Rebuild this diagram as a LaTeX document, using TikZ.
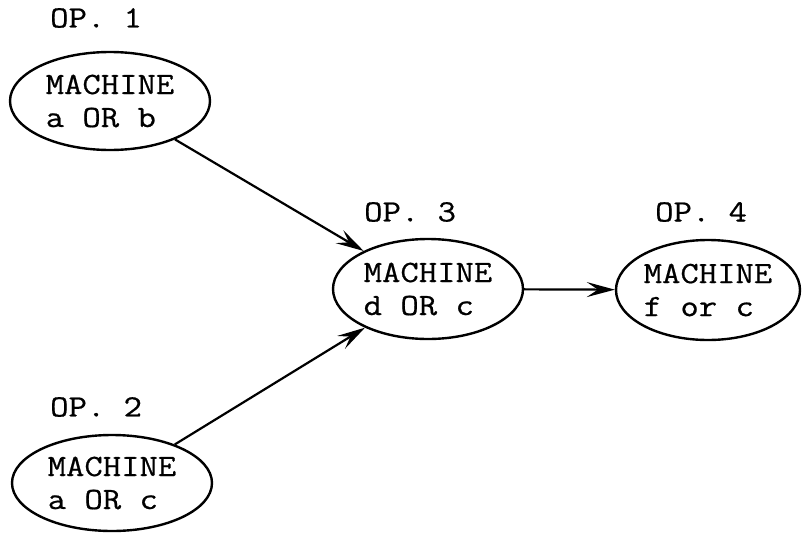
\documentclass[tikz,border=0pt]{standalone}
\usepackage{fontspec}
\setmonofont{Latin Modern Mono}[FakeStretch=1.15,FakeBold=0.6]
\usetikzlibrary{shapes.geometric,arrows.meta}
\begin{document}
\begin{tikzpicture}[x=1pt,y=-1pt,
  every node/.style={font=\ttfamily\fontsize{31}{33}\selectfont},
  machine/.style={draw, ellipse, line width=2.4pt, inner sep=0pt,
    align=left, minimum width=#1},
  machine/.default=200pt,
  oplabel/.style={anchor=west, inner sep=0pt},
  flow/.style={line width=2.2pt, -{Stealth[length=28pt,width=15pt,inset=11pt]}}]
  \useasboundingbox (0,0) rectangle (809,533);

  % operation nodes
  \node[machine=200pt, minimum height=98pt]  (m1) at (110,101) {MACHINE\\a OR b};
  \node[machine=200pt, minimum height=96pt]  (m2) at (112,483) {MACHINE\\a OR c};
  \node[machine=190pt, minimum height=100pt] (m3) at (428,289) {MACHINE\\d OR c};
  \node[machine=184pt, minimum height=100pt] (m4) at (708,290) {MACHINE\\f or c};

  % operation labels
  \node[oplabel] (l1) at (50,18)  {OP. 1};
  \node[oplabel] (l2) at (50,407) {OP. 2};
  \node[oplabel] (l3) at (364,212) {OP. 3};
  \node[oplabel] (l4) at (655,212) {OP. 4};

  % precedence arrows
  \draw[flow] (m1) -- (m3);
  \draw[flow] (m2) -- (m3);
  \draw[flow] (m3) -- (m4);
\end{tikzpicture}
\end{document}
